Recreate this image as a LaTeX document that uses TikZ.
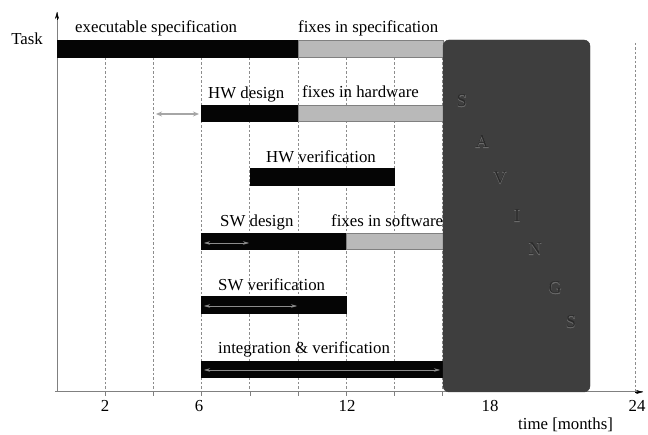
\documentclass[tikz,border=0pt]{standalone}
\usepackage{fontspec}
\setmainfont{Liberation Serif}
\newfontfamily\svhalo[FakeBold=2.5]{Liberation Serif}
\usetikzlibrary{arrows.meta,fit}
\newcommand{\lbfont}{\fontsize{16.8}{20}\selectfont}
\newcommand{\svfont}{\fontsize{18}{20}\selectfont}
\definecolor{barblack}{HTML}{050505}
\definecolor{bargray}{HTML}{B9B9B9}
\definecolor{savebox}{HTML}{3E3E3E}
\definecolor{saveltr}{HTML}{2A2A2A}
\definecolor{saverim}{HTML}{6A6A6A}
\begin{document}
\begin{tikzpicture}[x=1pt,y=-1pt,
  blackbar/.style={draw=barblack, fill=barblack, inner sep=0pt, line width=0.4pt},
  graybar/.style={draw=black!50, fill=bargray, inner sep=0pt, line width=0.6pt},
  lbl/.style={anchor=base west, inner sep=0pt, font=\lbfont},
  numlbl/.style={anchor=base, inner sep=0pt, font=\lbfont},
  gridline/.style={draw=black!45, dash pattern=on 2.5pt off 2pt, line width=0.7pt},
  axisline/.style={draw=black!50, line width=1pt},
  spanarrow/.style={{Stealth[length=6pt,width=3.5pt]}-{Stealth[length=6pt,width=3.5pt]}, draw=black!45, line width=0.5pt},
  savingsrim/.style={text=saverim, font=\svfont\svhalo, inner sep=0pt},
  savingsletter/.style={text=saveltr, font=\svfont, inner sep=0pt}]
\useasboundingbox (0,0) rectangle (648,435);

% month grid (0 months at x=57, 24.1pt per month)
\foreach \m in {2,4,...,16} {
  \draw[gridline] ({57+24.1*\m},58) -- ({57+24.1*\m},392);
  \draw[black!50, line width=0.6pt] ({57+24.1*\m},392) -- ({57+24.1*\m},396);
}
\draw[gridline] (635.4,43) -- (635.4,392);

% axes
\coordinate (origin) at (57,392);
\coordinate (ytop) at (57,12);
\coordinate (xend) at (643,392);
\draw[axisline] (55,392) -- (xend);
\draw[axisline] (origin) -- (ytop);
\draw[black, -{Stealth[length=7pt,width=4pt]}] (635,392) -- (xend);
\draw[black, -{Stealth[length=7pt,width=4pt]}] (57,20) -- (ytop);

\node[anchor=base, inner sep=0pt, font=\lbfont] (task) at (27,45) {Task};

% executable specification
\node[blackbar, fit={(57,40) (298,57)}] (spec) {};
\node[graybar, fit={(298,40) (443,57)}] (specfix) {};
\node[lbl] (speclbl) at (75,33) {executable specification};
\node[lbl] (specfixlbl) at (298,33) {fixes in specification};

% HW design
\node[blackbar, fit={(201.6,105) (298,121)}] (hwd) {};
\node[graybar, fit={(298,105) (443,121)}] (hwfix) {};
\node[lbl] (hwdlbl) at (208,99) {HW design};
\node[lbl] (hwfixlbl) at (302,98) {fixes in hardware};
\coordinate (hwstart) at (156,114);
\coordinate (hwend) at (199,114);
\draw[{Stealth[length=6pt,width=5pt]}-{Stealth[length=6pt,width=5pt]}, draw=black!35, line width=1.5pt] (hwstart) -- (hwend);

% HW verification
\node[blackbar, fit={(249.8,168) (394.4,185)}] (hwv) {};
\node[lbl] (hwvlbl) at (266,163) {HW verification};

% SW design
\node[blackbar, fit={(201.6,233) (346.2,249)}] (swd) {};
\node[graybar, fit={(346.2,233) (443,249)}] (swfix) {};
\node[lbl] (swdlbl) at (220,227) {SW design};
\node[lbl] (swfixlbl) at (331,227) {fixes in software};
\coordinate (swda) at (204,243);
\coordinate (swdb) at (249,243);
\draw[spanarrow] (swda) -- (swdb);

% SW verification
\node[blackbar, fit={(201.6,296) (346.2,313)}] (swv) {};
\node[lbl] (swvlbl) at (218,291) {SW verification};
\coordinate (swva) at (204,306);
\coordinate (swvb) at (297,306);
\draw[spanarrow] (swva) -- (swvb);

% integration & verification
\node[blackbar, fit={(201.6,361) (443,377)}] (intg) {};
\node[lbl] (intglbl) at (218,354) {integration \& verification};
\coordinate (intga) at (204,370);
\coordinate (intgb) at (440,370);
\draw[spanarrow] (intga) -- (intgb);

% savings block
\node[fill=savebox, draw=savebox, rounded corners=6pt, inner sep=0pt, fit={(443,40) (590,392)}] (savings) {};
\foreach \ch/\px/\py [count=\i] in {S/462/101, A/482/142, V/500/178, I/517/216, N/535/249, G/555/288, S/571/322} {
  \node[savingsrim] (rim\i) at (\px,\py) {\ch};
  \node[savingsletter] (ltr\i) at (\px,\py) {\ch};
}

% axis labels
\node[numlbl] (t2) at (105,412) {2};
\node[numlbl] (t6) at (199,412) {6};
\node[numlbl] (t12) at (347,412) {12};
\node[numlbl] (t18) at (490,412) {18};
\node[numlbl] (t24) at (637,412) {24};
\node[lbl] (timelbl) at (518,429) {time [months]};
\end{tikzpicture}
\end{document}
